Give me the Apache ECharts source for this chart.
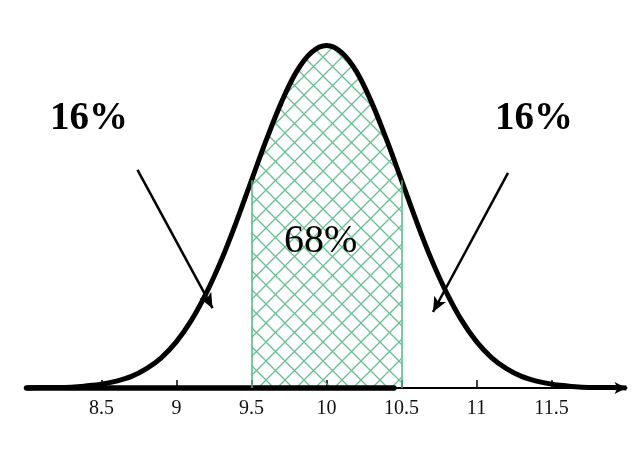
<!DOCTYPE html>
<html>
<head>
<meta charset="utf-8">
<script src="https://cdn.jsdelivr.net/npm/echarts@6/dist/echarts.min.js"></script>
<style>html,body{margin:0;padding:0;background:#fff}#c{width:644px;height:449px}</style>
</head>
<body>
<div id="c"></div>
<script>
// ---- data ----
const xValues = [8.0,8.1,8.2,8.3,8.4,8.5,8.6,8.7,8.8,8.9,9.0,9.1,9.2,9.3,9.4,9.5,9.6,9.7,9.8,9.9,10.0,
                 10.1,10.2,10.3,10.4,10.5,10.6,10.7,10.8,10.9,11.0,11.1,11.2,11.3,11.4,11.5,11.6,11.7,11.8,11.9,12.0];
const density = [0.000,0.001,0.001,0.002,0.005,0.009,0.016,0.027,0.045,0.071,0.108,0.158,0.222,0.299,0.388,0.484,0.579,0.666,0.737,0.782,0.798,
                 0.782,0.737,0.666,0.579,0.484,0.388,0.299,0.222,0.158,0.108,0.071,0.045,0.027,0.016,0.009,0.005,0.002,0.001,0.001,0.000];
const shadeRange = [9.5, 10.5];
const tickValues = [8.5, 9, 9.5, 10, 10.5, 11, 11.5];
const baselineSegment = [[8.0, 0], [10.45, 0]];
const leftArrow = [[8.74, 0.508], [9.24, 0.186]];
const rightArrow = [[11.21, 0.501], [10.71, 0.177]];
const tailLabel = '16%';
const centerLabel = '68%';

// ---- build ----
const curve = xValues.map((x, i) => [x, density[i]]);
const shaded = curve.filter(p => p[0] >= shadeRange[0] - 1e-9 && p[0] <= shadeRange[1] + 1e-9);
const dAt = v => curve.find(p => Math.abs(p[0] - v) < 1e-9)[1];

const pc = document.createElement('canvas');
const P = 19;
pc.width = P; pc.height = P;
const g = pc.getContext('2d');
g.strokeStyle = 'rgba(85,185,135,0.9)';
g.lineWidth = 1.3;
g.beginPath();
g.moveTo(-2, -2); g.lineTo(P + 2, P + 2);
g.moveTo(P + 2, -2); g.lineTo(-2, P + 2);
g.stroke();

const serif = '"Liberation Serif", "Times New Roman", serif';
const chart = echarts.init(document.getElementById('c'), null, {renderer: 'canvas'});
chart.setOption({
  animation: false,
  backgroundColor: '#fff',
  grid: {left: 26.5, right: 17.5, top: 44.6, bottom: 61},
  xAxis: {
    type: 'value', min: 8, max: 12, interval: 0.5,
    axisLine: {show: true, symbol: ['none', 'arrow'], symbolSize: [9, 12],
               lineStyle: {color: '#000', width: 2}},
    axisTick: {show: true, inside: true, length: 8, customValues: tickValues,
               lineStyle: {color: '#000', width: 1.5}},
    axisLabel: {customValues: tickValues, fontFamily: serif, fontSize: 20, color: '#111', margin: 11,
                formatter: v => (v <= 8 || v >= 12) ? '' : String(v)},
    splitLine: {show: false}
  },
  yAxis: {type: 'value', min: 0, max: 0.8, show: false},
  series: [
    {
      type: 'line', data: shaded, smooth: 0.35, symbol: 'none', clip: false, z: 1,
      lineStyle: {width: 0},
      areaStyle: {color: {image: pc, repeat: 'repeat'}, opacity: 1},
      markLine: {
        silent: true, symbol: ['none', 'none'], label: {show: false},
        lineStyle: {color: 'rgba(80,185,135,1)', width: 1.5, type: 'solid'},
        data: [
          [{coord: [shadeRange[0], 0]}, {coord: [shadeRange[0], dAt(shadeRange[0])]}],
          [{coord: [shadeRange[1], 0]}, {coord: [shadeRange[1], dAt(shadeRange[1])]}]
        ]
      }
    },
    {
      type: 'line', data: curve, smooth: 0.35, symbol: 'none', clip: false, z: 3,
      lineStyle: {color: '#000', width: 5}
    },
    {
      type: 'line', data: baselineSegment, symbol: 'none', clip: false, z: 4,
      lineStyle: {color: '#000', width: 5.5, cap: 'round'},
      markLine: {
        silent: true, symbol: ['none', 'arrow'], symbolSize: [10, 15], label: {show: false},
        lineStyle: {color: '#000', width: 2.5, type: 'solid'},
        data: [
          [{coord: leftArrow[0]}, {coord: leftArrow[1]}],
          [{coord: rightArrow[0]}, {coord: rightArrow[1]}]
        ]
      }
    }
  ],
  graphic: [
    {type: 'text', left: 50, top: 99, z: 10,
     style: {text: tailLabel, font: 'bold 39px ' + serif, fill: '#000'}},
    {type: 'text', left: 495, top: 99, z: 10,
     style: {text: tailLabel, font: 'bold 39px ' + serif, fill: '#000'}},
    {type: 'text', left: 284, top: 221, z: 10,
     style: {text: centerLabel, font: '40px ' + serif, fill: '#000'}}
  ]
});
</script>
</body>
</html>
